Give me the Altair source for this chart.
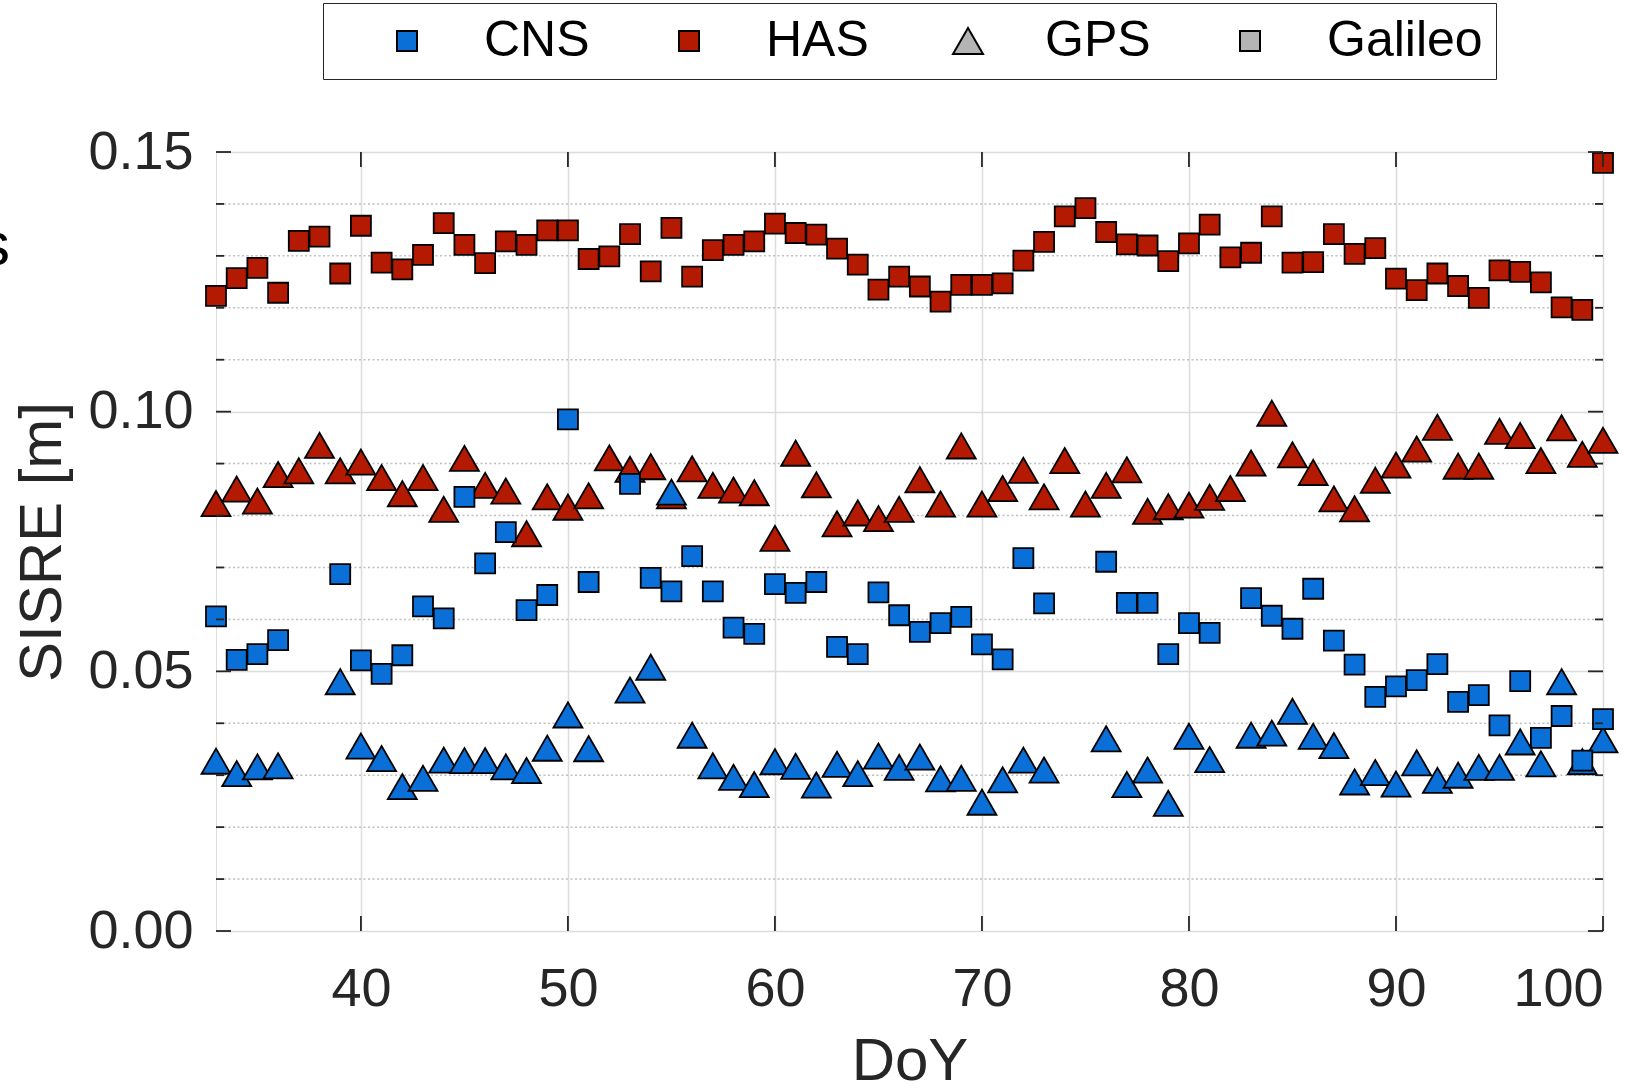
import altair as alt
import pandas as pd

# ---------------- data ----------------
DAYS = list(range(33, 101))

HAS_GALILEO = [0.1223, 0.1257, 0.1277, 0.1229, 0.1329, 0.1337, 0.1266, 0.1358, 0.1287, 0.1274,
               0.1302, 0.1363, 0.1321, 0.1286, 0.1328, 0.1321, 0.1349, 0.1349, 0.1294, 0.1299,
               0.1342, 0.1270, 0.1354, 0.1260, 0.1311, 0.1321, 0.1328, 0.1362, 0.1344, 0.1341,
               0.1314, 0.1283, 0.1235, 0.1260, 0.1241, 0.1212, 0.1244, 0.1244, 0.1247, 0.1291,
               0.1327, 0.1376, 0.1392, 0.1346, 0.1322, 0.1320, 0.1290, 0.1324, 0.1360, 0.1297,
               0.1306, 0.1376, 0.1287, 0.1288, 0.1342, 0.1304, 0.1315, 0.1256, 0.1234, 0.1266,
               0.1242, 0.1219, 0.1272, 0.1269, 0.1249, 0.1201, 0.1196, 0.1479]

HAS_GPS = [0.0823, 0.0851, 0.0828, 0.0879, 0.0886, 0.0935, 0.0886, 0.0903, 0.0873, 0.0842,
           0.0873, 0.0812, 0.0910, 0.0858, 0.0847, 0.0765, 0.0836, 0.0816, 0.0838, 0.0911,
           0.0889, 0.0894, 0.0838, 0.0890, 0.0858, 0.0849, 0.0844, 0.0756, 0.0920, 0.0859,
           0.0784, 0.0805, 0.0794, 0.0812, 0.0869, 0.0822, 0.0934, 0.0822, 0.0852, 0.0887,
           0.0836, 0.0906, 0.0822, 0.0858, 0.0888, 0.0808, 0.0817, 0.0820, 0.0835, 0.0852,
           0.0901, 0.0997, 0.0917, 0.0883, 0.0832, 0.0813, 0.0868, 0.0897, 0.0928, 0.0970,
           0.0895, 0.0895, 0.0962, 0.0954, 0.0906, 0.0969, 0.0918, 0.0945]

CNS_GALILEO = [0.0606, 0.0522, 0.0533, 0.0560, None, None, 0.0687, 0.0521, 0.0495, 0.0531,
               0.0625, 0.0602, 0.0836, 0.0708, 0.0768, 0.0618, 0.0647, 0.0985, 0.0672, None,
               0.0861, 0.0680, 0.0654, 0.0722, 0.0654, 0.0584, 0.0572, 0.0668, 0.0651, 0.0672,
               0.0547, 0.0533, 0.0652, 0.0608, 0.0576, 0.0593, 0.0605, 0.0552, 0.0523, 0.0718,
               0.0631, None, None, 0.0711, 0.0632, 0.0632, 0.0533, 0.0593, 0.0574, None,
               0.0641, 0.0607, 0.0582, 0.0659, 0.0559, 0.0513, 0.0451, 0.0471, 0.0483, 0.0514,
               0.0441, 0.0454, 0.0396, 0.0481, 0.0372, 0.0414, 0.0328, 0.0408]

CNS_GPS = [0.0327, 0.0303, 0.0316, 0.0318, None, None, 0.0480, 0.0356, 0.0332, 0.0278,
           0.0294, 0.0329, 0.0328, 0.0328, 0.0316, 0.0309, 0.0352, 0.0416, 0.0351, None,
           0.0464, 0.0508, 0.0845, 0.0377, 0.0318, 0.0296, 0.0282, 0.0326, 0.0317, 0.0281,
           0.0321, 0.0303, 0.0337, 0.0315, 0.0335, 0.0293, 0.0294, 0.0248, 0.0291, 0.0329,
           0.0310, None, None, 0.0370, 0.0282, 0.0310, 0.0246, 0.0375, 0.0330, None,
           0.0377, 0.0381, 0.0423, 0.0375, 0.0357, 0.0287, 0.0305, 0.0283, 0.0324, 0.0290,
           0.0300, 0.0315, 0.0315, 0.0364, 0.0322, 0.0480, 0.0326, 0.0368]

X_TICKS = [40, 50, 60, 70, 80, 90, 100]
Y_MAJOR = [0.0, 0.05, 0.10, 0.15]
Y_MINOR = [0.01, 0.02, 0.03, 0.04, 0.06, 0.07, 0.08, 0.09, 0.11, 0.12, 0.13, 0.14]
LEGEND_LABELS = ["CNS", "HAS", "GPS", "Galileo"]
CLIPPED_TEXT = ["s"]

# ---------------- styles ----------------
BLUE = "#0a6fd6"
RED = "#b41a02"
GRAY = "#b4b4b4"
AX = "#262626"
FONT = "Liberation Sans"
W, H = 1387, 779
TRI_PATH = "M0,-1.3L1.5,1.3L-1.5,1.3Z"


def frame(values):
    d = pd.DataFrame({"day": DAYS, "value": values})
    return d.dropna()


xs = alt.Scale(domain=[33, 100], nice=False, zero=False)
ys = alt.Scale(domain=[0, 0.15], nice=False, zero=True)

X_AX = alt.Axis(values=X_TICKS, grid=True, gridColor="#dcdcdc", gridWidth=1.5,
                ticks=False, tickSize=0, domain=False,
                labelFont=FONT, labelFontSize=54, labelColor=AX,
                labelPadding=74, labelBaseline="alphabetic",
                titleFont=FONT, titleFontSize=60, titleFontWeight="normal", titleColor=AX,
                titleX=W / 2, titleY=148, titleBaseline="alphabetic", titleAlign="center")
Y_AX = alt.Axis(values=Y_MAJOR, format=".2f", grid=True, gridColor="#dcdcdc", gridWidth=1.5,
                ticks=False, tickSize=0, domain=False,
                labelFont=FONT, labelFontSize=54, labelColor=AX,
                labelPadding=23, labelBaseline="middle",
                titleFont=FONT, titleFontSize=60, titleFontWeight="normal", titleColor=AX,
                titleAngle=270, titleX=-156, titleY=H / 2,
                titleBaseline="alphabetic", titleAlign="center")

xenc = alt.X("day:Q", scale=xs, axis=X_AX, title="DoY")
yenc = alt.Y("value:Q", scale=ys, axis=Y_AX, title="SISRE [m]")

# minor dotted grid
minor_grid = alt.Chart(pd.DataFrame({"value": Y_MINOR})).mark_rule(
    color="#bfbfbf", strokeWidth=1.5, strokeDash=[2, 2.5]
).encode(y=yenc)

# markers
MK = dict(filled=True, stroke="black", strokeWidth=1.8, opacity=1)
has_gps = alt.Chart(frame(HAS_GPS)).mark_point(
    shape="triangle-up", size=840, fill=RED, **MK
).encode(x=xenc, y=yenc)
cns_gps = alt.Chart(frame(CNS_GPS)).mark_point(
    shape="triangle-up", size=840, fill=BLUE, **MK
).encode(x=xenc, y=yenc)
has_gal = alt.Chart(frame(HAS_GALILEO)).mark_point(
    shape="square", size=400, fill=RED, **MK
).encode(x=xenc, y=yenc)
cns_gal = alt.Chart(frame(CNS_GALILEO)).mark_point(
    shape="square", size=400, fill=BLUE, **MK
).encode(x=xenc, y=yenc)

# inward ticks
ymaj = pd.DataFrame({"value": Y_MAJOR})
ymin = pd.DataFrame({"value": Y_MINOR})
xt = pd.DataFrame({"day": X_TICKS})
tk = dict(color=AX, strokeWidth=1.8)
ticks = [
    alt.Chart(ymaj).mark_rule(**tk).encode(y=yenc, x=alt.value(0), x2=alt.value(15)),
    alt.Chart(ymin).mark_rule(**tk).encode(y=yenc, x=alt.value(0), x2=alt.value(8)),
    alt.Chart(ymaj).mark_rule(**tk).encode(y=yenc, x=alt.value(W - 15), x2=alt.value(W)),
    alt.Chart(ymin).mark_rule(**tk).encode(y=yenc, x=alt.value(W - 8), x2=alt.value(W)),
    alt.Chart(xt).mark_rule(**tk).encode(x=xenc, y=alt.value(0), y2=alt.value(15)),
    alt.Chart(xt).mark_rule(**tk).encode(x=xenc, y=alt.value(H - 15), y2=alt.value(H)),
]

# legend (dummy invisible layer)
leg = alt.Legend(orient="none", legendX=107, legendY=-149, direction="horizontal",
                 title=" ", titleOrient="left", titleFontSize=1, titlePadding=46,
                 labelFont=FONT, labelFontSize=50, labelColor="black", labelOffset=52,
                 columnPadding=74, symbolSize=400,
                 symbolStrokeWidth=2, symbolOpacity=1, padding=13,
                 strokeColor=AX, fillColor="white")
legend_layer = alt.Chart(pd.DataFrame({"entry": LEGEND_LABELS})).mark_point(
    filled=True, opacity=0, size=400, stroke="black", strokeWidth=2,
    strokeOpacity=1, fillOpacity=1
).encode(
    color=alt.Color("entry:N", scale=alt.Scale(domain=LEGEND_LABELS, range=[BLUE, RED, GRAY, GRAY]),
                    legend=leg),
    shape=alt.Shape("entry:N", scale=alt.Scale(domain=LEGEND_LABELS,
                                                range=["square", "square", TRI_PATH, "square"]),
                    legend=leg),
)

# clipped text fragment at the far left edge
frag = alt.Chart(pd.DataFrame({"t": CLIPPED_TEXT})).mark_text(
    font=FONT, fontSize=62, align="right", baseline="alphabetic", color="black"
).encode(text="t:N", x=alt.value(-206), y=alt.value(113))

chart = alt.layer(minor_grid, has_gps, cns_gps, has_gal, cns_gal, *ticks, legend_layer, frag).properties(
    width=W, height=H,
    autosize=alt.AutoSizeParams(type="none"),
    padding={"left": 216, "top": 152, "right": 49, "bottom": 157},
    background="white",
).configure_view(stroke=AX, strokeWidth=2).configure(font=FONT)

chart.save("out.html", embed_options={"renderer": "svg", "actions": False})
